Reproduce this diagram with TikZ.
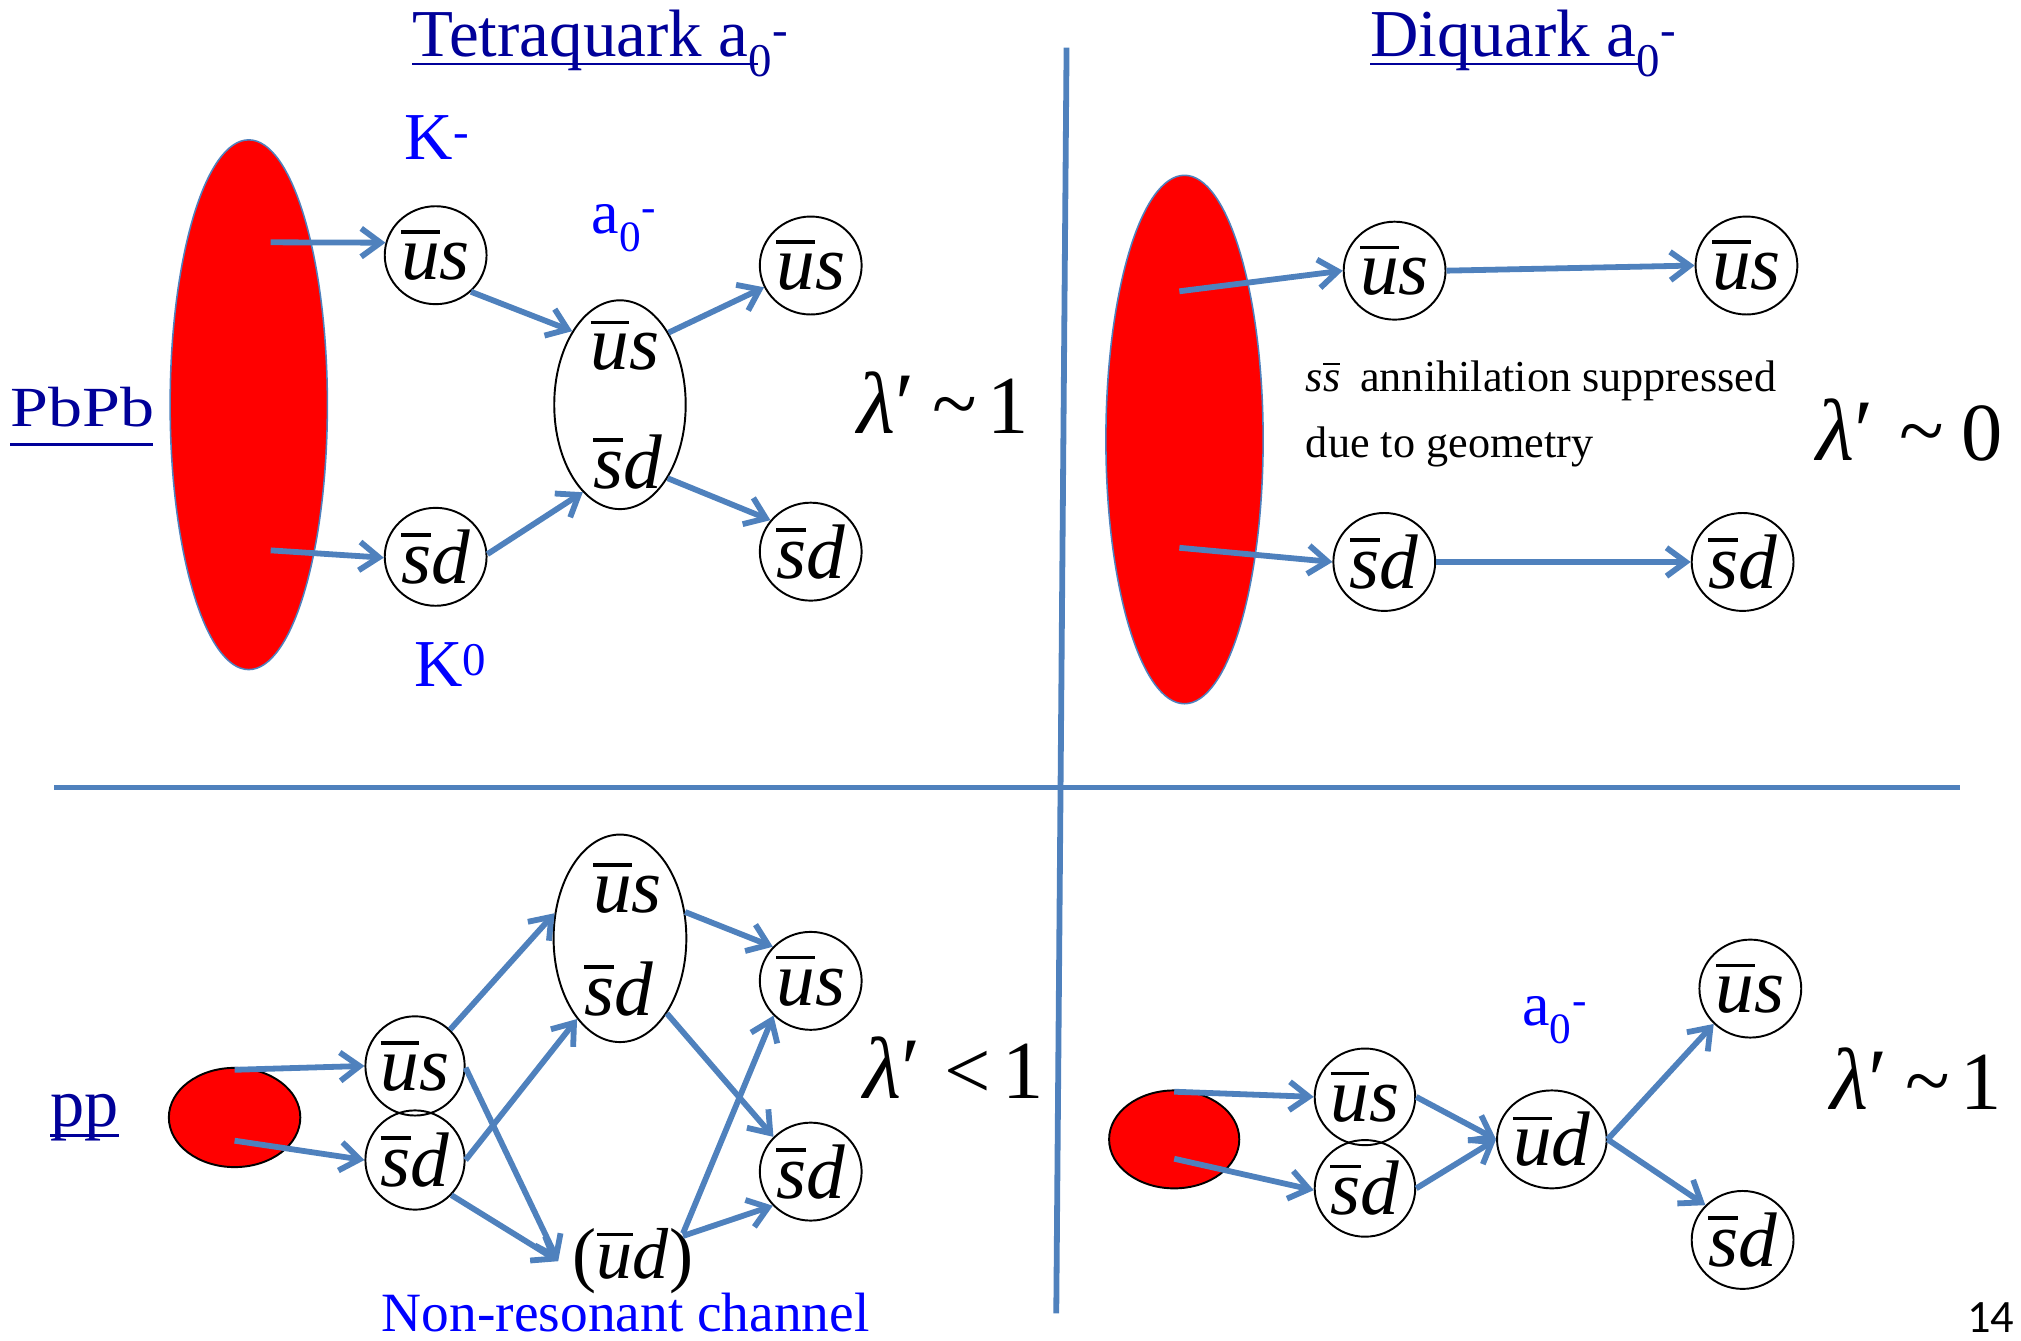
\documentclass[tikz,border=0pt]{standalone}
\usepackage{graphicx}
\usepackage{fontspec}
\setmainfont{Liberation Serif}
\newfontfamily\calib{Carlito}
\usetikzlibrary{arrows.meta,shapes.geometric,calc}
\definecolor{arr}{RGB}{79,129,189}
\definecolor{tblue}{RGB}{0,0,153}
\definecolor{lblue}{RGB}{0,0,255}
\definecolor{redf}{RGB}{255,0,0}
\newcommand\ob[1]{\vbox{\hrule height .048em\kern .13em\hbox{\itshape #1}}}
\newcommand\qp[2]{\ob{#1}\textit{#2}}
\newcommand\fs[1]{\fontsize{#1}{#1}\selectfont}
\newcommand\lamp{{\fs{68}\textit{λ}′}}
\newcommand\tld{\raisebox{1pt}{\textasciitilde}}
\tikzset{
  qc/.style={ellipse, draw=black, line width=1.5pt, minimum width=79pt, minimum height=76pt, inner sep=0pt, font=\fs{60}},
  bigq/.style={ellipse, draw=black, line width=1.5pt, minimum width=102pt, minimum height=162pt, inner sep=0pt},
  qt/.style={font=\fs{60}, inner sep=0pt, anchor=base},
  redblob/.style={ellipse, fill=redf, draw=arr, line width=1.2pt, inner sep=0pt},
  redsmall/.style={ellipse, fill=redf, draw=black, line width=1.5pt, inner sep=0pt},
  ar/.style={draw=arr, line width=4.5pt, -{Straight Barb[length=15pt,width=22pt]}},
  divider/.style={draw=arr, line width=4.5pt},
  lab/.style={text=lblue, inner sep=0pt, anchor=base west},
  ttl/.style={text=tblue, inner sep=0pt, anchor=base west},
  uline/.style={draw=tblue, line width=2pt},
  lam/.style={inner sep=0pt, anchor=base west, font=\fs{64}},
  note/.style={inner sep=0pt, anchor=base west, font=\fs{34.3}}
}
\begin{document}
\begin{tikzpicture}[x=1pt,y=-1pt]
\useasboundingbox (0,0) rectangle (1568,1040);
% dividers
\coordinate (vtop) at (827.5,37);
\coordinate (vbot) at (819.5,1019);
\coordinate (hl) at (42,611);
\coordinate (hr) at (1521,611);
\draw[divider] (vtop) -- (vbot);
\draw[divider] (hl) -- (hr);

% titles
\node[ttl, font=\fs{52}] (t1) at (320,44) {Tetraquark a\textsubscript{0}\textsuperscript{-}};
\draw[uline] (320,49.5) -- (588,49.5);
\node[ttl, font=\fs{52}] (t2) at (1063,44) {Diquark a\textsubscript{0}\textsuperscript{-}};
\draw[uline] (1063,49.5) -- (1271,49.5);
\node[ttl, font=\fs{44}] (pbpb) at (8,331) {\scalebox{1.2}[1]{PbPb}};
\draw[uline] (8,345) -- (119,345);
\node[ttl, font=\fs{53}] (pp) at (39,874) {pp};
\draw[uline] (39,881) -- (92,881);

% blue labels
\node[lab, font=\fs{52}] (km) at (314,123.5) {K\textsuperscript{-}};
\node[lab, font=\fs{48}] (a0t) at (459,181) {a\textsubscript{0}\textsuperscript{-}};
\node[lab, font=\fs{52}] (k0) at (321,533) {K\textsuperscript{0}};
\node[lab, font=\fs{48}] (a0b) at (1181,796) {a\textsubscript{0}\textsuperscript{-}};
\node[lab, font=\fs{43}] (nr) at (296,1033) {Non-resonant channel};

% notes and lambdas
\node[note] (ann1) at (1013,304) {\textit{s}\ob{s}\hspace{.45em}annihilation suppressed};
\node[note] (ann2) at (1013,355) {due to geometry};
\node[lam] (lam1) at (665,336) {\lamp\hspace{14pt}\tld\hspace{8pt}1};
\node[lam] (lam2) at (1409,357) {\lamp\hspace{20pt}\tld\hspace{14pt}0};
\node[lam] (lam3) at (670,852) {\lamp\hspace{18pt}<\hspace{9pt}1};
\node[lam] (lam4) at (1420,861) {\lamp\hspace{14pt}\tld\hspace{8pt}1};
\node[inner sep=0pt, anchor=base west, font=\calib\fs{36}] (pg) at (1526,1034) {14};

% red sources
\node[redblob, minimum width=122pt, minimum height=411pt] (red1) at (193,314) {};
\node[redblob, minimum width=122pt, minimum height=410pt] (red2) at (919,341) {};
\node[redsmall, minimum width=102pt, minimum height=77pt] (red3) at (182,867) {};
\node[redsmall, minimum width=101pt, minimum height=76pt] (red4) at (911,884) {};

% top-left quarks
\node[qc] (us1) at (338,198) {\qp{u}{s}};
\node[qc] (sd1) at (338,432) {\qp{s}{d}};
\node[bigq] (cen1) at (481,314) {};
\node[qt] (cu1) at (485,287) {\qp{u}{s}};
\node[qt] (cd1) at (487,379) {\qp{s}{d}};
\node[qc] (rus1) at (629,206) {\qp{u}{s}};
\node[qc] (rsd1) at (629,428) {\qp{s}{d}};

% top-right quarks
\node[qc] (us2) at (1082,210) {\qp{u}{s}};
\node[qc] (rus2) at (1355,206) {\qp{u}{s}};
\node[qc] (sd2) at (1074,436) {\qp{s}{d}};
\node[qc] (rsd2) at (1352,436) {\qp{s}{d}};

% bottom-left quarks
\node[qc, minimum width=77pt, minimum height=77pt] (us3) at (322,827) {\qp{u}{s}};
\node[qc, minimum width=77pt, minimum height=77pt] (sd3) at (322,900) {\qp{s}{d}};
\node[bigq, minimum width=103pt, minimum height=161pt] (cen3) at (481,728) {};
\node[qt] (cu3) at (487,708) {\qp{u}{s}};
\node[qt] (cd3) at (480,788) {\qp{s}{d}};
\node[qc] (rus3) at (629,761) {\qp{u}{s}};
\node[qc] (rsd3) at (629,909) {\qp{s}{d}};
\node[inner sep=0pt, font=\fs{56}] (ud3) at (491,978.5) {(\qp{u}{d})};

% bottom-right quarks
\node[qc, minimum width=78pt, minimum height=75pt] (us4) at (1059,851) {\qp{u}{s}};
\node[qc, minimum width=78pt, minimum height=75pt] (sd4) at (1059,922) {\qp{s}{d}};
\node[qc, minimum width=77pt, minimum height=76pt] (ud4) at (1204,884) {\qp{u}{d}};
\node[qc] (rus4) at (1358,767) {\qp{u}{s}};
\node[qc] (rsd4) at (1352,962) {\qp{s}{d}};

% arrow start points inside the sources
\coordinate (r1a) at (210,188);
\coordinate (r1b) at (210,427);
\coordinate (r2a) at (915,226);
\coordinate (r2b) at (915,425);
\coordinate (r3a) at (182,830);
\coordinate (r3b) at (182,885);
\coordinate (r4a) at (911,847);
\coordinate (r4b) at (911,899);

% top-left arrows
\draw[ar] (r1a) -- (us1.166);
\draw[ar] (r1b) -- (sd1.181);
\draw[ar] (us1.-46) -- (cen1.123);
\draw[ar] (sd1.3) -- (cen1.247);
\draw[ar] (cen1.56) -- (rus1.205);
\draw[ar] (cen1.-57) -- (rsd1.142);

% top-right arrows
\draw[ar] (r2a) -- (us2.180);
\draw[ar] (us2.0) -- (rus2.180);
\draw[ar] (r2b) -- (sd2.180);
\draw[ar] (sd2.0) -- (rsd2.180);

% bottom-left arrows
\draw[ar] (r3a) -- (us3.180);
\draw[ar] (r3b) -- (sd3.180);
\draw[ar] (us3.46) -- (cen3.159);
\draw[ar] (us3.-2) -- ($(ud3.west)+(-11,0)$);
\draw[ar] (sd3.0) -- (cen3.242);
\draw[ar] (sd3.-44) -- ($(ud3.west)+(-11,0)$);
\draw[ar] (cen3.22) -- (rus3.138);
\draw[ar] (cen3.-58) -- (rsd3.137);
\draw[ar] ($(ud3.north east)+(-8,4)$) -- (rus3.223);
\draw[ar] ($(ud3.north east)+(-8,6)$) -- (rsd3.222);

% bottom-right arrows
\draw[ar] (r4a) -- (us4.180);
\draw[ar] (r4b) -- (sd4.182);
\draw[ar] (us4.0) -- (ud4.180);
\draw[ar] (sd4.0) -- (ud4.180);
\draw[ar] (ud4.0) -- (rus4.224);
\draw[ar] (ud4.0) -- (rsd4.137);
\end{tikzpicture}
\end{document}
